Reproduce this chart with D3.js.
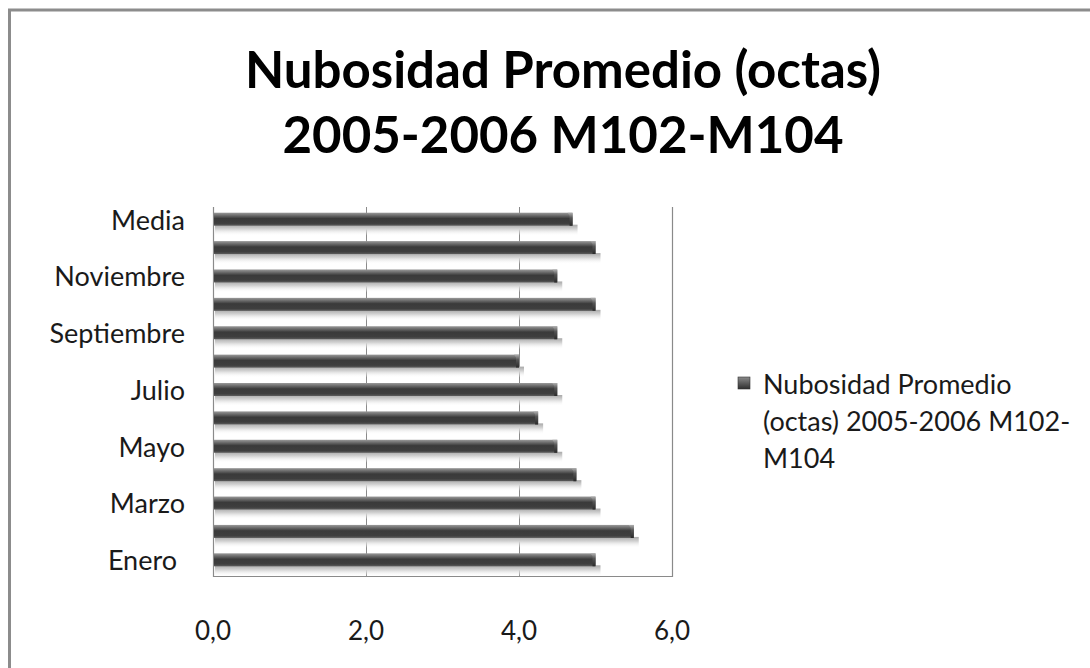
<!DOCTYPE html>
<html>
<head>
<meta charset="utf-8">
<title>Nubosidad Promedio</title>
<script src="https://cdn.jsdelivr.net/npm/d3@7"></script>
<style>
  body { margin: 0; background: #fff; overflow: hidden; }
  svg { display: block; }
  svg text { font-family: Lato, "Open Sans", sans-serif; fill: #1a1a1a; }
</style>
</head>
<body>
<div id="chart"></div>
<script>
// data
var meses = ["Enero", "Febrero", "Marzo", "Abril", "Mayo", "Junio", "Julio",
             "Agosto", "Septiembre", "Octubre", "Noviembre", "Diciembre", "Media"];
var nubosidad = [5.0, 5.5, 5.0, 4.75, 4.5, 4.25, 4.5, 4.0, 4.5, 5.0, 4.5, 5.0, 4.7];
var ticksX = [0, 2, 4, 6];
var titulo = ["Nubosidad Promedio (octas)", "2005-2006 M102-M104"];
var leyenda = ["Nubosidad Promedio", "(octas) 2005-2006 M102-", "M104"];

var W = 1090, H = 668;
var plot = {left: 213, right: 672, top: 207, bottom: 576};

var svg = d3.select("#chart").append("svg").attr("width", W).attr("height", H);
var defs = svg.append("defs");

// cylinder look of the bars
var g1 = defs.append("linearGradient").attr("id", "barra").attr("x1", 0).attr("y1", 0).attr("x2", 0).attr("y2", 1);
g1.append("stop").attr("offset", "0%").attr("stop-color", "#9a9a9a");
g1.append("stop").attr("offset", "22%").attr("stop-color", "#6a6a6a");
g1.append("stop").attr("offset", "45%").attr("stop-color", "#3a3a3a");
g1.append("stop").attr("offset", "82%").attr("stop-color", "#3e3e3e");
g1.append("stop").attr("offset", "100%").attr("stop-color", "#5c5c5c");

var g2 = defs.append("linearGradient").attr("id", "sombra").attr("x1", 0).attr("y1", 0).attr("x2", 0).attr("y2", 1);
g2.append("stop").attr("offset", "0%").attr("stop-color", "#a8a8a8");
g2.append("stop").attr("offset", "40%").attr("stop-color", "#d4d4d4");
g2.append("stop").attr("offset", "100%").attr("stop-color", "#fff").attr("stop-opacity", 0);

var g3 = defs.append("linearGradient").attr("id", "tapa").attr("x1", 0).attr("y1", 0).attr("x2", 0).attr("y2", 1);
g3.append("stop").attr("offset", "0%").attr("stop-color", "#b0b0b0");
g3.append("stop").attr("offset", "40%").attr("stop-color", "#555");
g3.append("stop").attr("offset", "100%").attr("stop-color", "#2a2a2a");

var g4 = defs.append("linearGradient").attr("id", "marca").attr("x1", 0).attr("y1", 0).attr("x2", 0).attr("y2", 1);
g4.append("stop").attr("offset", "0%").attr("stop-color", "#8a8a8a");
g4.append("stop").attr("offset", "100%").attr("stop-color", "#2e2e2e");

// outer frame (right and bottom edges fall outside the picture)
svg.append("rect").attr("x", 9.5).attr("y", 10).attr("width", W + 20).attr("height", H + 20)
  .attr("fill", "none").attr("stroke", "#8c8c8c").attr("stroke-width", 3);

// title
svg.selectAll("text.titulo").data(titulo).enter().append("text")
  .attr("class", "titulo")
  .attr("x", 563).attr("y", function (d, i) { return 88 + i * 65; })
  .attr("text-anchor", "middle")
  .style("font-size", "51px").style("font-weight", "700")
  .style("fill", "#000")
  .text(function (d) { return d; });

var x = d3.scaleLinear().domain([0, 6]).range([plot.left, plot.right]);
var y = d3.scaleBand().domain(meses).range([plot.bottom, plot.top]).padding(0);

// gridlines
svg.append("g").selectAll("line").data(ticksX.slice(1, -1)).enter().append("line")
  .attr("x1", function (d) { return x(d) + 0.5; }).attr("x2", function (d) { return x(d) + 0.5; })
  .attr("y1", plot.top).attr("y2", plot.bottom)
  .attr("stroke", "#8a8a8a").attr("stroke-width", 1);

// plot frame: left, right, bottom
svg.append("path")
  .attr("d", "M" + (plot.left + 0.5) + "," + plot.top + "V" + (plot.bottom + 0.5) +
             "H" + (plot.right + 0.5) + "V" + plot.top)
  .attr("fill", "none").attr("stroke", "#8a8a8a").attr("stroke-width", 1.2);

// bars
var bh = 13;
var barras = svg.append("g").selectAll("g").data(meses).enter().append("g")
  .attr("transform", function (d) { return "translate(0," + (y(d) + y.bandwidth() / 2 - 8.5) + ")"; });

barras.append("rect")
  .attr("x", plot.left + 2).attr("y", bh - 1)
  .attr("width", function (d, i) { return x(nubosidad[i]) - x(0) + 3; })
  .attr("height", 11).attr("fill", "url(#sombra)");

barras.append("rect")
  .attr("x", plot.left + 1).attr("y", 0)
  .attr("width", function (d, i) { return x(nubosidad[i]) - x(0) - 1; })
  .attr("height", bh).attr("fill", "url(#barra)");

// bevelled end of each bar
barras.append("path")
  .attr("d", function (d, i) {
    var e = x(nubosidad[i]);
    return "M" + (e - 5) + ",0H" + e + "V" + bh + "H" + (e - 3) + "V3Z";
  })
  .attr("fill", "url(#tapa)");

// category labels, every second one
svg.append("g").selectAll("text").data(meses.filter(function (d, i) { return i % 2 === 0; }))
  .enter().append("text")
  .attr("x", function (d) { return d === "Enero" ? 177 : 185; })
  .attr("y", function (d) { return y(d) + y.bandwidth() / 2 - 1; })
  .attr("dy", "0.35em").attr("text-anchor", "end")
  .style("font-size", "27px")
  .text(function (d) { return d; });

// value axis labels
var fmt = function (v) { return d3.format(".1f")(v).replace(".", ","); };
svg.append("g").selectAll("text").data(ticksX).enter().append("text")
  .attr("x", function (d) { return x(d); }).attr("y", 631)
  .attr("dy", "0.35em").attr("text-anchor", "middle")
  .style("font-size", "26px")
  .text(fmt);

// legend
svg.append("rect").attr("x", 738).attr("y", 377).attr("width", 12).attr("height", 12)
  .attr("fill", "url(#marca)").attr("stroke", "#333").attr("stroke-width", 0.6);
svg.append("g").selectAll("text").data(leyenda).enter().append("text")
  .attr("x", 763).attr("y", function (d, i) { return 385 + i * 37; })
  .attr("dy", "0.35em")
  .style("font-size", "27px")
  .text(function (d) { return d; });
</script>
</body>
</html>
